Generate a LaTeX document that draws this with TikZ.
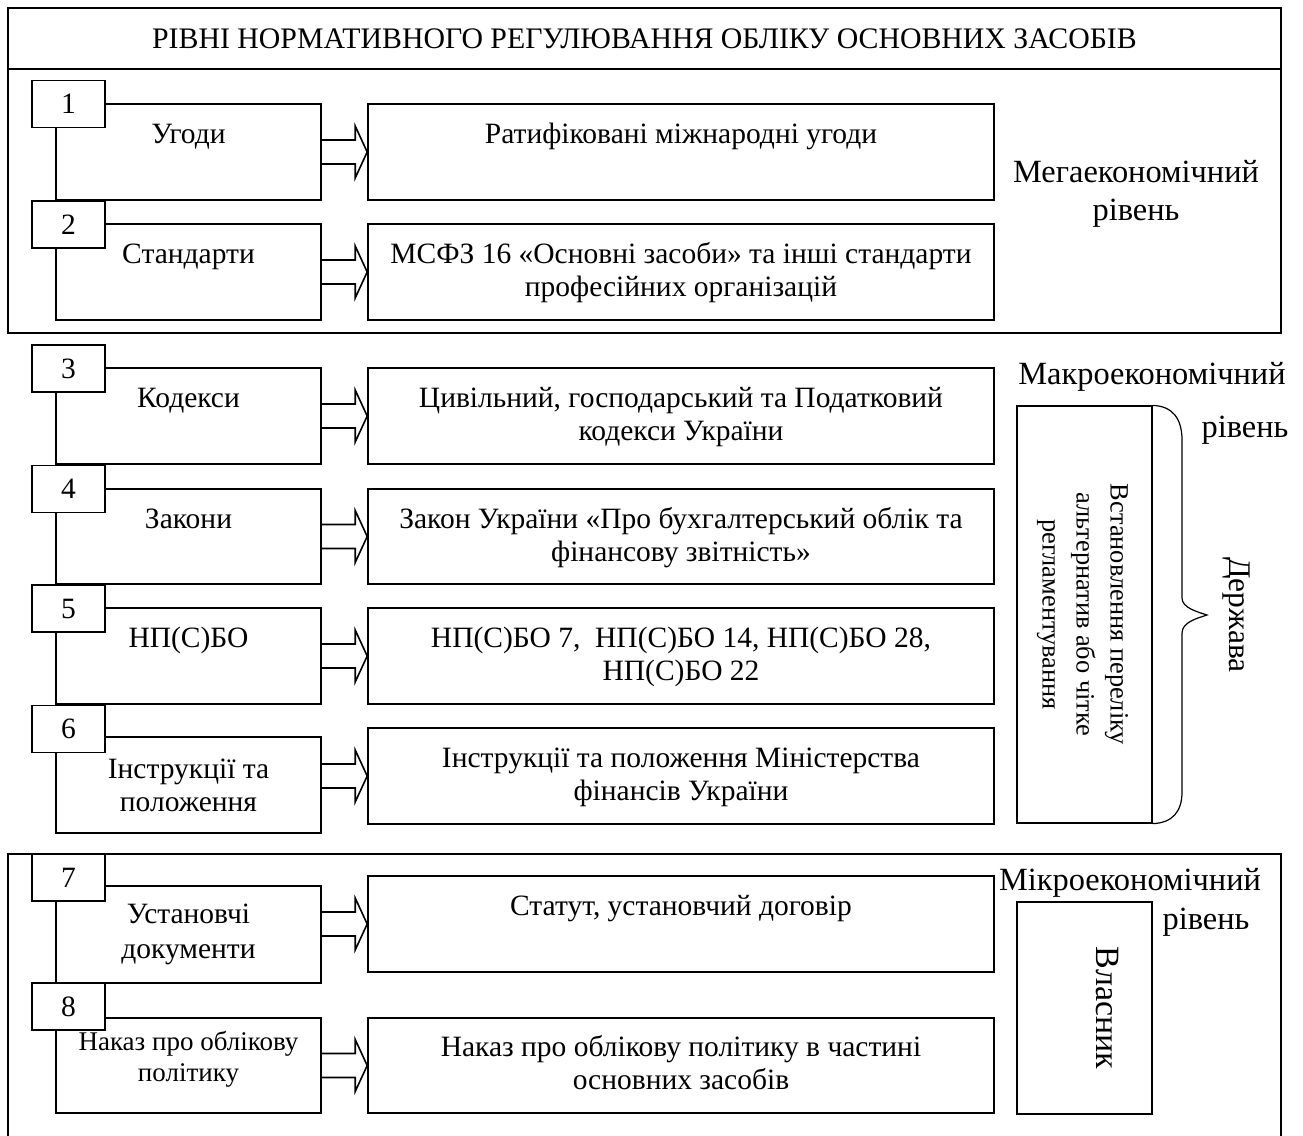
\documentclass[tikz,border=0pt]{standalone}
\usepackage{fontspec}
\setmainfont{Liberation Serif}
\usetikzlibrary{calc}
\newcommand{\fsz}[2]{\fontsize{#1}{#2}\selectfont}
\newcommand{\tbox}[4]{\parbox[t][#2pt][t]{#1pt}{\centering\rule{0pt}{#3pt}#4}}
\newcommand{\barrow}[2]{\draw let \p1=(#1.east), \p2=(#2.west) in
  (\x1,\y2+12pt) -- (\x2-12pt,\y2+12pt) -- (\x2-12pt,\y2+26pt) -- (\x2,\y2)
  -- (\x2-12pt,\y2-26pt) -- (\x2-12pt,\y2-12pt) -- (\x1,\y2-12pt);}
\begin{document}
\begin{tikzpicture}[x=1pt,y=-1pt,line width=1.6pt,
  numbox/.style={draw, fill=white, minimum width=73pt, minimum height=47pt, inner sep=0pt, font=\fsz{29.5}{33}},
  lbox/.style={draw, inner sep=0pt, font=\fsz{29.5}{33}},
  rbox/.style={draw, inner sep=0pt, font=\fsz{29.5}{33}},
  frame/.style={draw, inner sep=0pt},
  lvl/.style={font=\fsz{32.4}{38}, align=center, inner sep=0pt},
  thin/.style={line width=1.2pt}]
\useasboundingbox (0,0) rectangle (1303,1135);
\fill[white] (0,0) rectangle (1303,1135);
% frames
\node[frame, minimum width=1273pt, minimum height=61pt, font=\fsz{29.8}{34}] (title) at (644.5,38.5)
  {РІВНІ НОРМАТИВНОГО РЕГУЛЮВАННЯ ОБЛІКУ ОСНОВНИХ ЗАСОБІВ};
\node[frame, minimum width=1273pt, minimum height=264pt] (mega) at (644.5,201) {};
\coordinate (mibl) at (8,1140);
\coordinate (mibr) at (1281,1140);
\draw (mibl) -- (8,854) -- (1281,854) -- (mibr);
% level labels
\node[lvl] (megal) at (1136,194) {Мегаекономічний\\рівень};
\node[lvl] (macl1) at (1152,377) {Макроекономічний};
\node[lvl] (macl2) at (1245,430) {рівень};
\node[lvl] (micl1) at (1130,883) {Мікроекономічний};
\node[lvl] (micl2) at (1206,922) {рівень};
% label boxes
\node[lbox] (l1) at (188.5,152) {\tbox{265}{96}{39}{Угоди}};
\node[lbox] (l2) at (188.5,272) {\tbox{265}{96}{39}{Стандарти}};
\node[lbox] (l3) at (188.5,416) {\tbox{265}{96}{39}{Кодекси}};
\node[lbox] (l4) at (188.5,536.5) {\tbox{265}{95}{39}{Закони}};
\node[lbox] (l5) at (188.5,656) {\tbox{265}{96}{39}{НП(С)БО}};
\node[lbox] (l6) at (188.5,785) {\tbox{265}{96}{41}{Інструкції та\\положення}};
\node[lbox] (l7) at (188.5,934.5) {\tbox{265}{97}{37}{\fsz{29.5}{35}Установчі\\документи}};
\node[lbox] (l8) at (188.5,1065.5) {\tbox{265}{95}{32}{\fsz{27}{31}Наказ про облікову\\політику}};
% number boxes
\node[numbox] (n1) at (68.5,104) {1};
\node[numbox] (n2) at (68.5,224.5) {2};
\node[numbox] (n3) at (68.5,368.5) {3};
\node[numbox] (n4) at (68.5,489) {4};
\node[numbox] (n5) at (68.5,608.5) {5};
\node[numbox] (n6) at (68.5,729) {6};
\node[numbox] (n7) at (68.5,877.5) {7};
\node[numbox] (n8) at (68.5,1006.5) {8};
% right boxes
\node[rbox] (r1) at (681,152) {\tbox{626}{96}{39}{Ратифіковані міжнародні угоди}};
\node[rbox] (r2) at (681,272) {\tbox{626}{96}{39}{МСФЗ 16 «Основні засоби» та інші стандарти\\професійних організацій}};
\node[rbox] (r3) at (681,416) {\tbox{626}{96}{39}{Цивільний, господарський та Податковий\\кодекси України}};
\node[rbox] (r4) at (681,536.5) {\tbox{626}{95}{39}{Закон України «Про бухгалтерський облік та\\фінансову звітність»}};
\node[rbox] (r5) at (681,656) {\tbox{626}{96}{39}{НП(С)БО 7,\ \ НП(С)БО 14, НП(С)БО 28,\\НП(С)БО 22}};
\node[rbox] (r6) at (681,776) {\tbox{626}{96}{39}{Інструкції та положення Міністерства\\фінансів України}};
\node[rbox] (r7) at (681,924) {\tbox{626}{96}{39}{Статут, установчий договір}};
\node[rbox] (r8) at (681,1065.5) {\tbox{626}{95}{38}{Наказ про облікову політику в частині\\основних засобів}};
% arrows
\barrow{l1}{r1}
\barrow{l2}{r2}
\barrow{l3}{r3}
\barrow{l4}{r4}
\barrow{l5}{r5}
\barrow{l6}{r6}
\barrow{l7}{r7}
\barrow{l8}{r8}
% state box
\node[draw, thin, minimum width=135pt, minimum height=417pt, inner sep=0pt] (vb) at (1084.5,614.5) {};
\node[rotate=-90, align=center, font=\fsz{26.4}{34}, inner sep=0pt] (vbt) at ($(vb.center)+(-2,0)$) {Встановлення переліку\\альтернатив або чітке\\регламентування};
\draw[thin] (vb.north east) .. controls (1172,406) and (1182,418) .. (1182,440)
  -- (1182,598) .. controls (1182,608) and (1198,612) .. (1207,615)
  .. controls (1198,618) and (1182,622) .. (1182,633)
  -- (1182,792) .. controls (1182,812) and (1172,823) .. (vb.south east);
\node[rotate=-90, font=\fsz{31.5}{36}, inner sep=0pt] (state) at (1236,615) {Держава};
% owner box
\node[draw, thin, minimum width=135pt, minimum height=212pt, inner sep=0pt] (ob) at (1084.5,1008) {};
\node[rotate=-90, font=\fsz{34}{38}, inner sep=0pt] (obt) at ($(ob.center)+(23,0)$) {Власник};
\end{tikzpicture}
\end{document}
